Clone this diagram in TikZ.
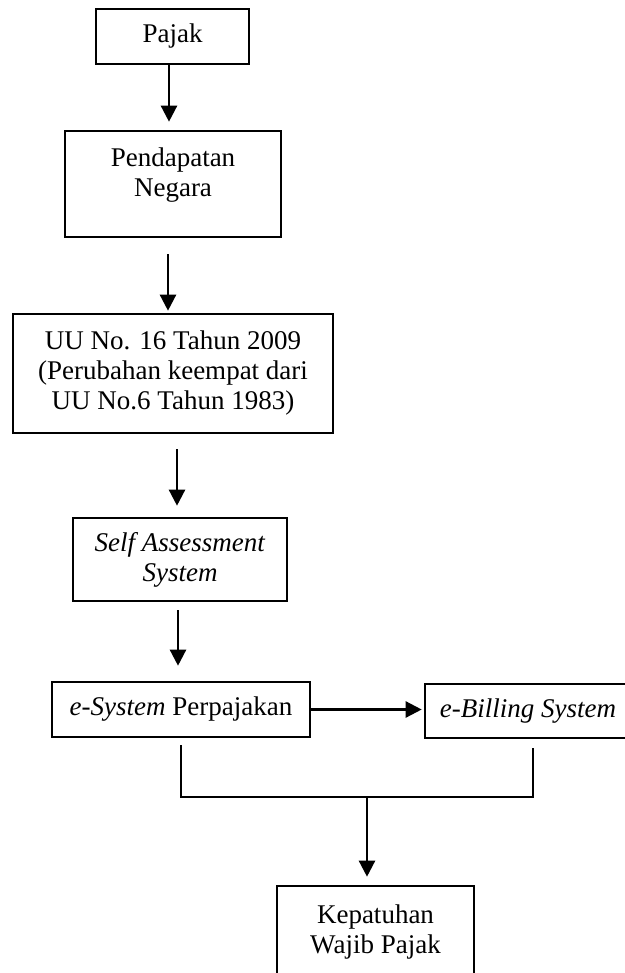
\documentclass[tikz,border=0pt]{standalone}
\usepackage{fontspec}
\setmainfont{Liberation Serif}
\usetikzlibrary{arrows.meta}
\begin{document}
\begin{tikzpicture}[x=0.5pt,y=-0.5pt, font=\fontsize{13.5}{15}\selectfont,
  box/.style={draw, line width=1.3pt, inner sep=0pt, align=center},
  txt/.style={inner sep=0pt, align=center},
  arr/.style={line width=1.2pt, -{Triangle[length=8pt,width=8pt]}},
  link/.style={line width=0.65pt}]
\useasboundingbox (0,0) rectangle (625,973);
\begin{scope}
\clip (0,0) rectangle (625,973);
\node[box, minimum width=76.5pt, minimum height=27.5pt] (pajak) at (172.5,36.5) {Pajak};
\node[box, minimum width=108pt, minimum height=53pt] (pend) at (173,184) {};
\node[txt] (pendT) at (173,175) {Pendapatan\\Negara};
\node[box, minimum width=160pt, minimum height=59.5pt] (uu) at (173,373.5) {UU No. 16 Tahun 2009\\(Perubahan keempat dari\\UU No.6 Tahun 1983)};
\node[box, minimum width=107pt, minimum height=41.5pt] (sa) at (180,559.5) {\textit{Self Assessment}\\\textit{System}};
\node[box, minimum width=129pt, minimum height=27.5pt] (esys) at (181,709.5) {\textit{e-System} Perpajakan};
\node[box, minimum width=140pt, minimum height=27pt] (ebill) at (565,711) {};
\node[txt] (ebillT) at (528,711) {\textit{e-Billing System}};
\node[box, minimum width=98.5pt, minimum height=53pt] (kep) at (375.5,939) {};
\node[txt] (kepT) at (375.5,932) {Kepatuhan\\Wajib Pajak};
\coordinate (join) at (367,797);
\coordinate (rdrop) at (533,738);
\draw[arr, shorten >=4pt] ([xshift=-1.75pt]pajak.south) -- ([xshift=-2pt]pend.north);
\draw[arr, shorten <=8pt, shorten >=1pt] ([xshift=-2.5pt]pend.south) -- ([xshift=-2.5pt]uu.north);
\draw[arr, shorten <=7.5pt, shorten >=5.5pt] ([xshift=2pt]uu.south) -- ([xshift=-1.5pt]sa.north);
\draw[arr, shorten <=4pt, shorten >=7.5pt] ([xshift=-1pt]sa.south) -- ([xshift=-1.5pt]esys.north);
\draw[arr, shorten >=1pt] (esys.east) -- (esys.east -| ebill.west);
\draw[link] ([yshift=-3.5pt]esys.south) |- (join);
\draw[link] ([yshift=-4.5pt]rdrop |- ebill.south) |- (join);
\draw[arr, shorten >=4pt] (join) -- (join |- kep.north);
\end{scope}
\end{tikzpicture}
\end{document}
